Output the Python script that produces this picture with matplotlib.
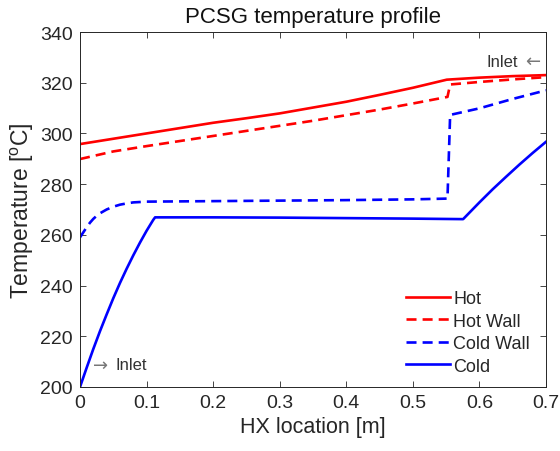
import numpy as np
import matplotlib.pyplot as plt

plt.rcParams['font.family'] = ['Liberation Sans', 'DejaVu Sans']
plt.rcParams['mathtext.fontset'] = 'custom'
plt.rcParams['mathtext.rm'] = 'Liberation Sans'

# values (x in m, T in degC)
hot_x = [0.0, 0.05, 0.1, 0.15, 0.2, 0.25, 0.3, 0.35, 0.4, 0.45, 0.5, 0.551, 0.6, 0.65, 0.7]
hot_t = [295.8, 297.9, 300.0, 302.1, 304.2, 306.0, 307.9, 310.2, 312.5, 315.2, 318.0, 321.2, 322.0, 322.6, 323.0]

hotwall_x = [0.0, 0.05, 0.1, 0.15, 0.2, 0.25, 0.3, 0.35, 0.4, 0.45, 0.5, 0.552, 0.556, 0.6, 0.65, 0.7]
hotwall_t = [289.9, 292.9, 295.0, 297.0, 299.0, 301.0, 303.0, 305.0, 307.2, 309.4, 311.8, 314.4, 319.3, 320.3, 321.3, 322.2]

coldwall_x = [0.0, 0.005, 0.01, 0.015, 0.02, 0.025, 0.03, 0.04, 0.05, 0.06, 0.07, 0.08, 0.1, 0.2, 0.3, 0.4, 0.5, 0.552, 0.556, 0.6, 0.65, 0.7]
coldwall_t = [259.0, 261.0, 263.0, 264.8, 266.3, 267.5, 268.5, 270.0, 271.1, 271.9, 272.4, 272.8, 273.1, 273.3, 273.5, 273.7, 274.0, 274.3, 307.3, 309.9, 313.6, 317.0]

cold_x = [0.0, 0.01, 0.02, 0.03, 0.04, 0.05, 0.06, 0.07, 0.08, 0.09, 0.1, 0.11, 0.1128,
          0.2, 0.3, 0.4, 0.5, 0.5755, 0.6, 0.62, 0.64, 0.66, 0.68, 0.7]
cold_t = [200.0, 207.6, 215.0, 222.0, 228.6, 235.0, 241.0, 246.6, 251.9, 256.9, 261.6, 265.9, 266.9,
          266.9, 266.8, 266.6, 266.4, 266.2, 272.8, 278.0, 282.9, 287.7, 292.3, 296.7]

fig = plt.figure(figsize=(5.6, 4.52), dpi=100)
ax = fig.add_axes([80 / 560, 1 - 388 / 452, 466 / 560, 355 / 452])

lw = 1.9
dash = (0, (3.8, 2.3))
ax.plot(hot_x, hot_t, color='#ff0000', lw=lw, label='Hot')
ax.plot(hotwall_x, hotwall_t, color='#ff0000', lw=lw, ls=dash, label='Hot Wall')
ax.plot(coldwall_x, coldwall_t, color='#0000ff', lw=lw, ls=dash, label='Cold Wall')
ax.plot(cold_x, cold_t, color='#0000ff', lw=lw, label='Cold')

ax.set_xlim(0, 0.7)
ax.set_ylim(200, 340)
ax.set_xticks(np.arange(0, 0.71, 0.1))
ax.set_xticklabels(['0', '0.1', '0.2', '0.3', '0.4', '0.5', '0.6', '0.7'])
ax.set_yticks(np.arange(200, 341, 20))

txt = '#262626'
ax.tick_params(direction='in', top=True, right=True, length=4.5, width=0.6,
               colors='#262626', labelsize=14, labelcolor=txt, pad=5)
for s in ax.spines.values():
    s.set_color('#262626')
    s.set_linewidth(0.7)

ax.set_xlabel('HX location [m]', fontsize=15.5, color=txt, labelpad=4)
ax.set_ylabel('Temperature [$^{\\mathrm{o}}$C]', fontsize=16.5, color=txt, labelpad=3)
ax.set_title('PCSG temperature profile', fontsize=16, color='#111111', pad=7)

# inlet markers
ax.text(0.658, 328.5, 'Inlet', ha='right', va='center', fontsize=12, color='#333333')
ax.text(0.691, 328.5, '\u2190', ha='right', va='center', fontsize=13, color='#777777',
        family='DejaVu Sans')
ax.text(0.0526, 208.7, 'Inlet', ha='left', va='center', fontsize=12, color='#333333')
ax.text(0.019, 208.7, '\u2192', ha='left', va='center', fontsize=13, color='#777777',
        family='DejaVu Sans')

leg = ax.legend(loc='lower left', frameon=False, fontsize=13, handlelength=2.4,
                handletextpad=0.2, labelspacing=0.3, borderpad=0, borderaxespad=0,
                bbox_to_anchor=(0.70, 0.035))
for t in leg.get_texts():
    t.set_color(txt)

fig.savefig('out.png', dpi=100)
